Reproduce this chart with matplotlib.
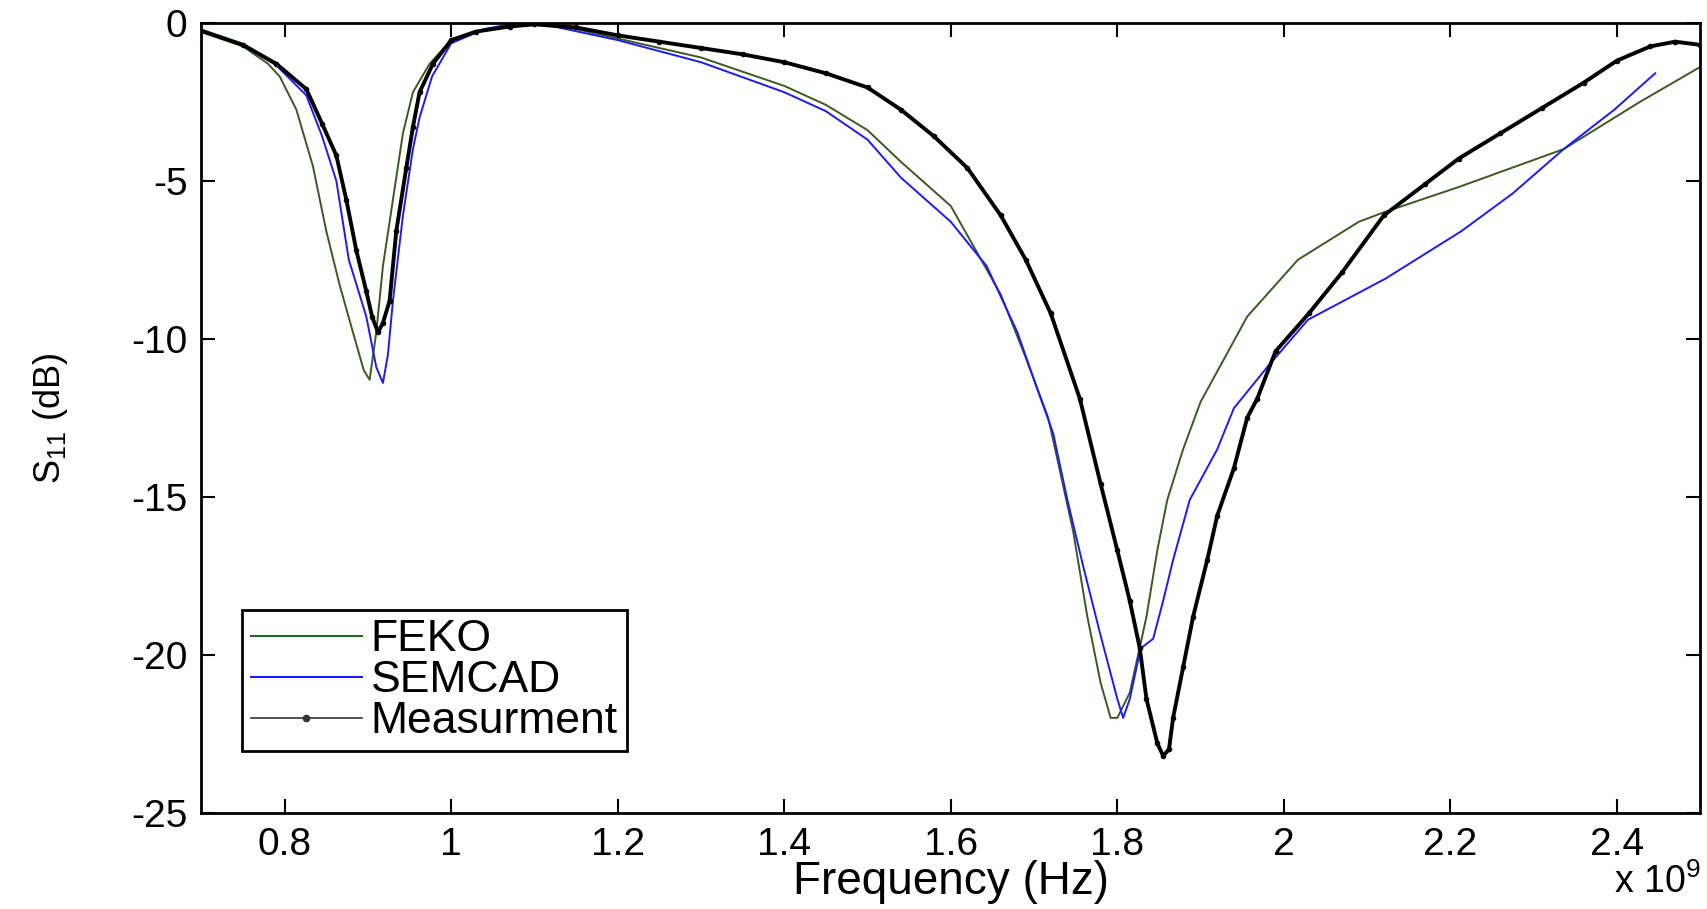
import numpy as np
import matplotlib
matplotlib.use('Agg')
import matplotlib.pyplot as plt
from matplotlib.lines import Line2D

################

# frequency in GHz, S11 in dB
meas_f = [0.70, 0.75, 0.79, 0.826, 0.845, 0.862, 0.874, 0.886, 0.898, 0.905, 0.912, 0.918,
          0.926, 0.934, 0.946, 0.954, 0.962, 0.978, 1.00, 1.03, 1.07, 1.10, 1.15, 1.20,
          1.25, 1.30, 1.35, 1.40, 1.45, 1.50, 1.54, 1.58, 1.62, 1.66, 1.69, 1.72, 1.755,
          1.78, 1.80, 1.815, 1.827, 1.835, 1.848, 1.855, 1.862, 1.867, 1.879, 1.891, 1.908,
          1.92, 1.94, 1.956, 1.968, 1.99, 2.03, 2.07, 2.12, 2.17, 2.21, 2.26, 2.31, 2.36,
          2.40, 2.44, 2.47, 2.50]
meas_s11 = [-0.25, -0.7, -1.3, -2.1, -3.2, -4.2, -5.6, -7.2, -8.5, -9.3, -9.8, -9.5,
            -8.8, -6.6, -4.6, -3.3, -2.2, -1.3, -0.55, -0.28, -0.12, -0.05, -0.15, -0.4,
            -0.6, -0.8, -1.0, -1.25, -1.6, -2.05, -2.75, -3.6, -4.6, -6.1, -7.5, -9.2, -11.9,
            -14.6, -16.7, -18.3, -19.8, -21.4, -22.8, -23.2, -23.0, -22.0, -20.4, -18.8, -17.0,
            -15.6, -14.1, -12.5, -11.9, -10.4, -9.2, -7.9, -6.1, -5.1, -4.3, -3.5, -2.7, -1.9,
            -1.2, -0.75, -0.6, -0.7]

feko_f = [0.70, 0.75, 0.78, 0.794, 0.814, 0.834, 0.85, 0.866, 0.882, 0.895, 0.902, 0.91,
          0.918, 0.93, 0.942, 0.954, 0.974, 1.00, 1.04, 1.10, 1.15, 1.20, 1.30, 1.40,
          1.45, 1.50, 1.54, 1.60, 1.66, 1.69, 1.717, 1.747, 1.764, 1.78, 1.792, 1.80,
          1.815, 1.835, 1.848, 1.86, 1.879, 1.90, 1.956, 2.017, 2.09, 2.12, 2.21, 2.336,
          2.428, 2.50]
feko_s11 = [-0.3, -0.75, -1.3, -1.7, -2.75, -4.55, -6.6, -8.3, -9.8, -11.0, -11.3, -9.8,
            -7.7, -5.6, -3.5, -2.2, -1.3, -0.55, -0.2, -0.05, -0.2, -0.5, -1.1, -2.0,
            -2.6, -3.4, -4.4, -5.8, -8.6, -10.6, -12.5, -16.1, -18.8, -20.9, -22.0, -22.0,
            -21.2, -18.8, -16.7, -15.1, -13.5, -12.0, -9.3, -7.5, -6.3, -6.0, -5.2, -4.0,
            -2.5, -1.4]

semcad_f = [0.70, 0.75, 0.79, 0.826, 0.845, 0.862, 0.877, 0.898, 0.91, 0.918, 0.924, 0.93,
            0.942, 0.954, 0.962, 0.977, 1.00, 1.04, 1.08, 1.12, 1.20, 1.30, 1.40, 1.45,
            1.50, 1.54, 1.60, 1.643, 1.68, 1.704, 1.723, 1.74, 1.759, 1.779, 1.80, 1.807,
            1.815, 1.828, 1.843, 1.855, 1.867, 1.887, 1.92, 1.94, 1.98, 2.029, 2.122, 2.213,
            2.275, 2.336, 2.397, 2.446]
semcad_s11 = [-0.25, -0.7, -1.35, -2.3, -3.6, -5.0, -7.5, -9.3, -10.9, -11.4, -10.5, -8.8,
              -6.1, -4.0, -3.0, -1.7, -0.65, -0.2, 0.0, -0.1, -0.55, -1.25, -2.2, -2.8,
              -3.7, -4.9, -6.3, -7.7, -9.8, -11.6, -13.0, -15.1, -17.2, -19.3, -21.4, -22.0,
              -21.4, -19.8, -19.5, -18.3, -17.0, -15.1, -13.5, -12.2, -10.9, -9.4, -8.1, -6.6,
              -5.4, -4.0, -2.75, -1.6]

xticks = [0.8, 1.0, 1.2, 1.4, 1.6, 1.8, 2.0, 2.2, 2.4]
xtick_labels = ['0.8', '1', '1.2', '1.4', '1.6', '1.8', '2', '2.2', '2.4']
yticks = [0, -5, -10, -15, -20, -25]
ytick_labels = ['0', '-5', '-10', '-15', '-20', '-25']

################

plt.rcParams['font.family'] = ['Liberation Sans', 'DejaVu Sans']
plt.rcParams['mathtext.fontset'] = 'custom'
plt.rcParams['mathtext.rm'] = 'Liberation Sans'
plt.rcParams['mathtext.it'] = 'Liberation Sans'

fig, ax = plt.subplots(figsize=(17.07, 9.09), dpi=100)
fig.subplots_adjust(left=0.118, right=0.996, bottom=0.106, top=0.975)

ax.plot(np.array(feko_f) * 1e9, feko_s11, color='#3b5a1f', lw=1.4)
ax.plot(np.array(semcad_f) * 1e9, semcad_s11, color='#1a1aff', lw=1.4)
ax.plot(np.array(meas_f) * 1e9, meas_s11, color='black', lw=2.8, marker='.', ms=6)

ax.set_xlim(0.7e9, 2.5e9)
ax.set_ylim(-25, 0)
ax.set_xticks(np.array(xticks) * 1e9)
ax.set_xticklabels(xtick_labels)
ax.set_yticks(yticks)
ax.set_yticklabels(ytick_labels)
ax.tick_params(direction='in', top=True, right=True, length=10, width=1.5,
               labelsize=28, pad=10)
for sp in ax.spines.values():
    sp.set_linewidth(2)

ax.set_xlabel('Frequency (Hz)', fontsize=33, labelpad=-2)
ax.set_ylabel(r'$\mathregular{S_{11}}$ (dB)', fontsize=26, labelpad=44)
ax.text(1.0, -0.112, r'$\mathregular{x\ 10^9}$', transform=ax.transAxes,
        ha='right', va='bottom', fontsize=27)

handles = [Line2D([], [], color='#1f6b1f', lw=1.5),
           Line2D([], [], color='#1a1aff', lw=1.5),
           Line2D([], [], color='#333333', lw=1.2, marker='.', ms=9)]
leg = ax.legend(handles, ['FEKO', 'SEMCAD', 'Measurment'], loc='lower left',
                bbox_to_anchor=(0.027, 0.078), borderaxespad=0, fontsize=32,
                fancybox=False, framealpha=1, edgecolor='black', handlelength=2.5,
                handletextpad=0.2, labelspacing=0.0, borderpad=0.2)
leg.get_frame().set_linewidth(2)

plt.savefig('out.png', dpi=100)
